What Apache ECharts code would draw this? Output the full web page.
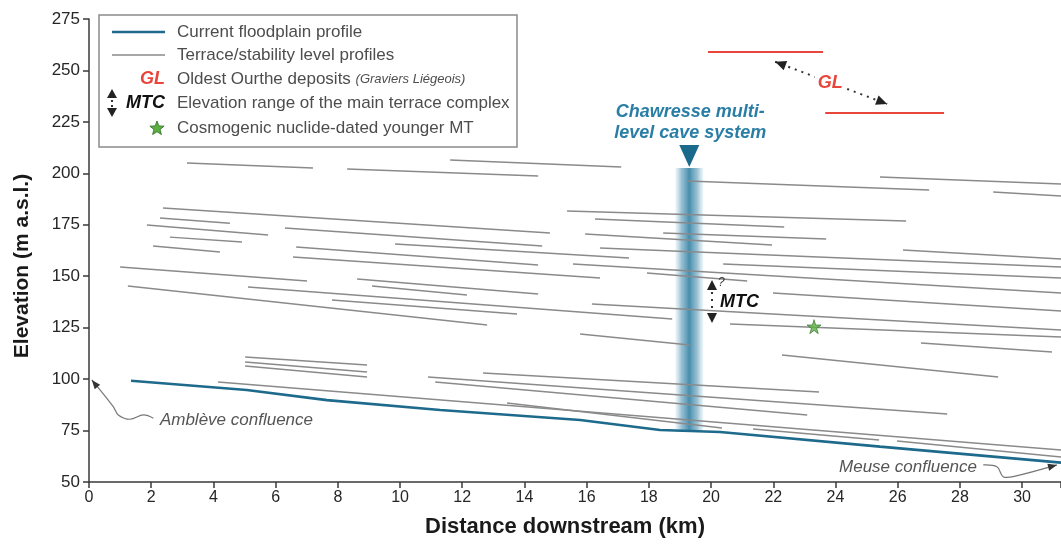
<!DOCTYPE html>
<html><head><meta charset="utf-8">
<script src="https://cdn.jsdelivr.net/npm/echarts@6/dist/echarts.min.js"></script>
<style>html,body{margin:0;padding:0;background:#fff}#c{width:1061px;height:545px}</style>
</head><body><div id="c"></div>
<script>
// ---------- data ----------
const xRange = [0, 31.25];
const xTickStep = 2;
const yRange = [50, 275];
const yTickStep = 25;

const floodplainKm   = [1.35, 5.07, 7.65, 11.29, 15.79, 18.36, 20.29, 25.43, 31.25];
const floodplainElev = [99.2, 94.7, 89.8, 85.0, 80.1, 75.3, 74.3, 67.2, 59.4];

// terrace / stability level profiles: [km start, elev start, km end, elev end]
const terraceSegments = [
  [3.15,205.0, 7.20,202.6],
  [8.30,202.1, 14.44,198.7],
  [11.61,206.5, 17.11,203.1],
  [19.23,196.3, 27.01,191.9],
  [25.43,198.2, 31.25,194.8],
  [29.07,190.9, 31.25,189.0],
  [2.38,183.1, 14.82,171.0],
  [15.37,181.7, 26.27,176.8],
  [16.27,177.8, 22.35,173.9],
  [18.46,171.0, 23.70,168.1],
  [15.95,170.5, 21.96,165.2],
  [16.43,163.7, 31.25,154.5],
  [26.17,162.7, 31.25,158.4],
  [20.39,155.9, 31.25,149.1],
  [15.56,155.9, 31.25,141.8],
  [17.94,151.6, 21.16,147.7],
  [21.99,141.8, 31.25,133.1],
  [16.17,136.5, 31.25,123.9],
  [20.61,126.8, 31.25,120.5],
  [26.75,117.5, 30.96,113.2],
  [22.28,111.7, 29.23,101.0],
  [12.67,103.0, 23.47,93.7],
  [10.90,101.0, 27.59,83.0],
  [11.13,98.6, 23.09,82.6],
  [4.15,98.6, 31.25,65.5],
  [21.35,75.8, 25.40,70.4],
  [25.98,69.9, 31.25,62.1],
  [13.44,88.4, 20.35,76.2],
  [15.79,121.9, 19.32,116.6],
  [2.28,178.3, 4.53,175.8],
  [1.86,174.9, 5.76,170.0],
  [2.60,169.0, 4.92,166.6],
  [2.06,164.7, 4.21,161.8],
  [6.30,173.4, 14.57,164.7],
  [9.84,165.6, 17.36,158.8],
  [6.66,164.2, 14.44,155.4],
  [6.56,159.3, 16.43,149.1],
  [1.00,154.5, 7.01,147.7],
  [8.62,148.6, 14.44,141.4],
  [9.10,145.2, 12.15,140.9],
  [5.11,144.8, 18.75,129.2],
  [7.81,138.4, 13.76,131.6],
  [1.25,145.2, 12.80,126.3],
  [5.02,110.7, 8.94,106.9],
  [5.02,108.3, 8.94,103.4],
  [5.02,106.4, 8.94,101.0]
];

// Graviers Liégeois (oldest Ourthe deposits)
const glSegments = [
  [19.90,258.9, 23.60,258.9],
  [23.67,229.3, 27.49,229.3]
];
const glArrow = [[22.06,254.2],[25.66,233.7]];
const glLabel = [23.83,243.9];

// Chawresse cave system
const caveKm = 19.3, caveTop = 202.6, caveBottom = 74.3;

// MTC range arrow
const mtcKm = 20.03, mtcTop = 148.2, mtcBottom = 127.3;

// dated younger MT
const datedMT = [[23.31,125.5]];

// confluence annotations
const ambleveCurve = [[2.07,81.0],[1.75,82.6],[1.32,80.5],[0.94,82.6],[0.78,86.6],[0.09,99.6]];
const ambleveLabelAt = [2.28,79.8];
const meuseCurve = [[28.75,58.3],[29.19,57.4],[29.39,52.6],[29.71,52.6],[31.12,58.3]];
const meuseLabelAt = [28.55,57.1];

// ---------- chart ----------
const FONT = "'Liberation Sans', Arial, Helvetica, sans-serif";
const chart = echarts.init(document.getElementById('c'));

const starPath = 'path://M50,0 L61,35 L98,35 L68,57 L79,91 L50,70 L21,91 L32,57 L2,35 L39,35 Z';

chart.setOption({
  animation: false,
  backgroundColor: '#fff',
  grid: {left: 89, right: 0, top: 19, bottom: 63, containLabel: false, outerBoundsMode: 'none'},
  xAxis: {
    type: 'value', min: xRange[0], max: xRange[1], interval: xTickStep,
    axisLine: {lineStyle: {color: '#3a3a3a', width: 1.5}},
    axisTick: {length: 6, lineStyle: {color: '#3a3a3a', width: 1.5}},
    axisLabel: {fontSize: 16, color: '#262626', fontFamily: FONT, margin: 8,
      formatter: v => (Math.abs(v % 2) < 1e-6 ? String(v) : '')},
    splitLine: {show: false}
  },
  yAxis: {
    type: 'value', min: yRange[0], max: yRange[1], interval: yTickStep,
    axisLine: {show: true, lineStyle: {color: '#3a3a3a', width: 1.5}},
    axisTick: {show: true, length: 6, lineStyle: {color: '#3a3a3a', width: 1.5}},
    axisLabel: {fontSize: 17, color: '#262626', fontFamily: FONT, margin: 9},
    splitLine: {show: false}
  },
  series: [
    {
      type: 'custom', z: 1, silent: true,
      data: [[caveKm, caveTop, caveBottom]],
      encode: {x: 0, y: [1, 2]},
      renderItem: (params, api) => {
        const t = api.coord([api.value(0), api.value(1)]);
        const b = api.coord([api.value(0), api.value(2)]);
        const w = 28;
        return {type: 'group', children: [
          {type: 'rect', shape: {x: t[0] - w / 2, y: t[1], width: w, height: b[1] - t[1]},
           style: {fill: new echarts.graphic.LinearGradient(0, 0, 1, 0, [
             {offset: 0, color: 'rgba(150,195,215,0.15)'},
             {offset: 0.22, color: 'rgba(110,165,192,0.7)'},
             {offset: 0.5, color: 'rgba(60,135,168,0.95)'},
             {offset: 0.78, color: 'rgba(110,165,192,0.7)'},
             {offset: 1, color: 'rgba(150,195,215,0.15)'}])}},
          {type: 'polygon', shape: {points: [[t[0] - 10, t[1] - 23], [t[0] + 10, t[1] - 23], [t[0], t[1] - 1]]},
           style: {fill: '#1b6a8c'}}
        ]};
      }
    },
    {
      type: 'lines', coordinateSystem: 'cartesian2d', z: 3, silent: true,
      lineStyle: {color: '#8a8a8a', width: 1.5, opacity: 1},
      data: terraceSegments.map(s => ({coords: [[s[0], s[1]], [s[2], s[3]]]}))
    },
    {
      type: 'lines', coordinateSystem: 'cartesian2d', z: 3, silent: true,
      lineStyle: {color: '#e8453c', width: 2, opacity: 1},
      data: glSegments.map(s => ({coords: [[s[0], s[1]], [s[2], s[3]]]}))
    },
    {
      type: 'line', z: 4, silent: true, showSymbol: false, symbol: 'none',
      lineStyle: {color: '#1d6a8c', width: 2.6},
      data: floodplainKm.map((k, i) => [k, floodplainElev[i]])
    },
    {
      type: 'scatter', z: 6, silent: true, symbol: starPath, symbolSize: 14,
      itemStyle: {color: '#5bb041', borderColor: '#2c6b22', borderWidth: 0.8},
      data: datedMT
    }
  ]
});

// ---------- annotations ----------
const P = (x, y) => chart.convertToPixel({gridIndex: 0}, [x, y]);
function head(tip, from, len, wid, color, z) {
  const dx = tip[0] - from[0], dy = tip[1] - from[1], d = Math.hypot(dx, dy);
  const ux = dx / d, uy = dy / d, bx = tip[0] - ux * len, by = tip[1] - uy * len, nx = -uy, ny = ux;
  return {type: 'polygon', z: z || 20, shape: {points: [tip, [bx + nx * wid / 2, by + ny * wid / 2], [bx - nx * wid / 2, by - ny * wid / 2]]},
          style: {fill: color}};
}
function starPoints(cx, cy, R, r) {
  const pts = [];
  for (let i = 0; i < 10; i++) {
    const a = -Math.PI / 2 + i * Math.PI / 5, rr = i % 2 ? r : R;
    pts.push([cx + rr * Math.cos(a), cy + rr * Math.sin(a)]);
  }
  return pts;
}
const g = [];

// GL dotted double arrow
const ga = P(glArrow[0][0], glArrow[0][1]), gb = P(glArrow[1][0], glArrow[1][1]);
g.push({type: 'line', z: 19, shape: {x1: ga[0], y1: ga[1], x2: gb[0], y2: gb[1]},
        style: {stroke: '#333', lineWidth: 2, lineDash: [2, 5]}});
g.push(head(ga, gb, 11, 10, '#222'));
g.push(head(gb, ga, 11, 10, '#222'));
const gl = P(glLabel[0], glLabel[1]);
g.push({type: 'text', z: 21, x: gl[0], y: gl[1], style: {text: 'GL', fill: '#e8453c', font: 'italic bold 18px ' + FONT,
        align: 'center', verticalAlign: 'middle', backgroundColor: '#fff', padding: [0, 3]}});

// cave label
const ct = P(caveKm, caveTop);
g.push({type: 'text', z: 21, x: ct[0] + 1, y: ct[1] - 24, style: {text: 'Chawresse multi-\nlevel cave system',
        fill: '#2a7ea6', font: 'italic bold 18px ' + FONT, align: 'center', verticalAlign: 'bottom', lineHeight: 21}});

// MTC arrow
const mt = P(mtcKm, mtcTop), mb = P(mtcKm, mtcBottom);
g.push(head(mt, [mt[0], mt[1] + 20], 10, 10, '#222'));
g.push(head(mb, [mb[0], mb[1] - 20], 10, 10, '#222'));
g.push({type: 'line', z: 19, shape: {x1: mt[0], y1: mt[1] + 12, x2: mb[0], y2: mb[1] - 12},
        style: {stroke: '#333', lineWidth: 2, lineDash: [2, 5]}});
g.push({type: 'text', z: 21, x: mt[0] + 6, y: mt[1] + 3, style: {text: '?', fill: '#333', font: 'italic 12px ' + FONT,
        align: 'left', verticalAlign: 'middle'}});
g.push({type: 'text', z: 21, x: mt[0] + 8, y: (mt[1] + mb[1]) / 2 + 1, style: {text: 'MTC', fill: '#111', font: 'italic bold 18px ' + FONT,
        align: 'left', verticalAlign: 'middle'}});

// confluences
function curve(pts, color) {
  const px = pts.map(p => P(p[0], p[1]));
  g.push({type: 'polyline', z: 19, shape: {points: px, smooth: 0.35}, style: {stroke: color, lineWidth: 1.2, fill: null}});
  g.push(head(px[px.length - 1], px[px.length - 2], 9, 7, '#333'));
}
curve(ambleveCurve, '#777');
curve(meuseCurve, '#777');
const al = P(ambleveLabelAt[0], ambleveLabelAt[1]);
g.push({type: 'text', z: 21, x: al[0], y: al[1], style: {text: 'Amblève confluence', fill: '#555', font: 'italic 17px ' + FONT,
        align: 'left', verticalAlign: 'middle'}});
const ml = P(meuseLabelAt[0], meuseLabelAt[1]);
g.push({type: 'text', z: 21, x: ml[0], y: ml[1], style: {text: 'Meuse confluence', fill: '#555', font: 'italic 17px ' + FONT,
        align: 'right', verticalAlign: 'middle'}});

// axis titles
g.push({type: 'text', z: 21, x: 565, y: 527, style: {text: 'Distance downstream (km)', fill: '#1a1a1a', font: 'bold 22px ' + FONT,
        align: 'center', verticalAlign: 'middle'}});
g.push({type: 'text', z: 21, x: 22, y: 266, rotation: Math.PI / 2, style: {text: 'Elevation (m a.s.l.)', fill: '#1a1a1a',
        font: 'bold 21px ' + FONT, align: 'center', verticalAlign: 'middle'}});

// legend
const LX = 99, LY = 15;
g.push({type: 'rect', z: 30, shape: {x: LX, y: LY, width: 418, height: 132},
        style: {fill: '#fff', stroke: '#8a8a8a', lineWidth: 1.5}});
const rows = [32, 55, 79, 103, 128];
const txt = (y, t) => g.push({type: 'text', z: 31, x: 177, y: y, style: {text: t, fill: '#4d4d4d', font: '17px ' + FONT,
        align: 'left', verticalAlign: 'middle'}});
g.push({type: 'line', z: 31, shape: {x1: 112, y1: rows[0], x2: 165, y2: rows[0]}, style: {stroke: '#1d6a8c', lineWidth: 2.6}});
txt(rows[0], 'Current floodplain profile');
g.push({type: 'line', z: 31, shape: {x1: 112, y1: rows[1], x2: 165, y2: rows[1]}, style: {stroke: '#8a8a8a', lineWidth: 1.5}});
txt(rows[1], 'Terrace/stability level profiles');
g.push({type: 'text', z: 31, x: 165, y: rows[2], style: {text: 'GL', fill: '#e8453c', font: 'italic bold 18px ' + FONT,
        align: 'right', verticalAlign: 'middle'}});
g.push({type: 'text', z: 31, x: 177, y: rows[2], style: {
        text: '{a|Oldest Ourthe deposits }{b|(Graviers Liégeois)}', verticalAlign: 'middle', align: 'left',
        rich: {a: {fill: '#4d4d4d', font: '17px ' + FONT}, b: {fill: '#4d4d4d', font: 'italic 13px ' + FONT}}}});
g.push(head([112, rows[3] - 14], [112, rows[3]], 9, 10, '#222', 31));
g.push(head([112, rows[3] + 14], [112, rows[3]], 9, 10, '#222', 31));
g.push({type: 'line', z: 31, shape: {x1: 112, y1: rows[3] - 3, x2: 112, y2: rows[3] + 4}, style: {stroke: '#333', lineWidth: 2, lineDash: [2, 3]}});
g.push({type: 'text', z: 31, x: 165, y: rows[3], style: {text: 'MTC', fill: '#111', font: 'italic bold 18px ' + FONT,
        align: 'right', verticalAlign: 'middle'}});
txt(rows[3], 'Elevation range of the main terrace complex');
g.push({type: 'polygon', z: 31, shape: {points: starPoints(157, rows[4] + 0.5, 7.5, 3.2)},
        style: {fill: '#5bb041', stroke: '#2c6b22', lineWidth: 0.8}});
txt(rows[4], 'Cosmogenic nuclide-dated younger MT');

chart.setOption({graphic: g});
</script></body></html>
